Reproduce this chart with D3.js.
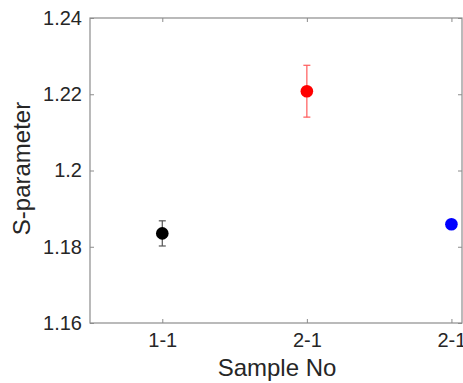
<!DOCTYPE html>
<html>
<head>
<meta charset="utf-8">
<script src="https://cdn.jsdelivr.net/npm/d3@7"></script>
<style>
  body { margin: 0; background: #fff; }
  svg { display: block; font-family: "Liberation Sans", Arial, sans-serif; }
</style>
</head>
<body>
<svg id="chart" width="463" height="383"></svg>
<script>
// data
const sampleIds = ['1-1', '2-1', '2-1'];
const sParam = [1.1835, 1.2208, 1.1859];
const sErr = [0.0033, 0.0068, 0];
const pointColors = ['#000000', '#ff0000', '#0000ff'];
const yTicks = [1.16, 1.18, 1.2, 1.22, 1.24];

const margin = { top: 18, right: 0, bottom: 60, left: 90 };
const width = 463;
const height = 383;

const svg = d3.select('#chart');

const x = d3.scaleLinear().domain([0.5, 3.08]).range([margin.left, 463]);
const y = d3.scaleLinear().domain([1.16, 1.24]).range([height - margin.bottom, margin.top]);

const axisColor = '#8c8c8c';
const textColor = '#262626';

// plot box
svg.append('rect')
  .attr('x', x(0.5)).attr('y', y(1.24))
  .attr('width', x(3.08) - x(0.5) - 1)
  .attr('height', y(1.16) - y(1.24))
  .attr('fill', 'none')
  .attr('stroke', axisColor)
  .attr('stroke-width', 1.2);

const xIdx = [1, 2, 3];

// axes (ticks point inward like matlab)
const gx = svg.append('g').attr('transform', `translate(0,${y(1.16)})`)
  .call(d3.axisBottom(x).tickValues(xIdx).tickSize(-4).tickPadding(10)
    .tickFormat((d, i) => sampleIds[i]));
const gxTop = svg.append('g').attr('transform', `translate(0,${y(1.24)})`)
  .call(d3.axisTop(x).tickValues(xIdx).tickSize(-4).tickFormat(''));
const gy = svg.append('g').attr('transform', `translate(${x(0.5)},0)`)
  .call(d3.axisLeft(y).tickValues(yTicks).tickSize(-4).tickPadding(8)
    .tickFormat(d => d3.format('')(+d.toFixed(2))));
const gyRight = svg.append('g').attr('transform', `translate(${x(3.08) - 1},0)`)
  .call(d3.axisRight(y).tickValues(yTicks).tickSize(-4).tickFormat(''));

[gx, gxTop, gy, gyRight].forEach(g => {
  g.select('.domain').remove();
  g.selectAll('.tick line').attr('stroke', axisColor);
  g.selectAll('.tick text')
    .attr('fill', textColor)
    .style('font-size', '20px');
});

// axis titles
svg.append('text')
  .attr('x', 277).attr('y', 376)
  .attr('text-anchor', 'middle')
  .attr('fill', textColor)
  .style('font-size', '24px')
  .text('Sample No');

svg.append('text')
  .attr('transform', `translate(30,${y(1.2) - 2}) rotate(-90)`)
  .attr('text-anchor', 'middle')
  .attr('fill', textColor)
  .style('font-size', '24px')
  .text('S-parameter');

// error bars
const pts = sParam.map((v, i) => ({ x: xIdx[i], v, e: sErr[i], c: pointColors[i] }));
const eb = svg.append('g').selectAll('g').data(pts.filter(d => d.e > 0)).enter().append('g')
  .attr('stroke', d => d.c === '#000000' ? '#555' : '#ff5a5a')
  .attr('stroke-width', 1.2);
eb.append('line')
  .attr('x1', d => x(d.x)).attr('x2', d => x(d.x))
  .attr('y1', d => y(d.v - d.e)).attr('y2', d => y(d.v + d.e));
eb.append('line')
  .attr('x1', d => x(d.x) - 3.5).attr('x2', d => x(d.x) + 3.5)
  .attr('y1', d => y(d.v + d.e)).attr('y2', d => y(d.v + d.e));
eb.append('line')
  .attr('x1', d => x(d.x) - 3.5).attr('x2', d => x(d.x) + 3.5)
  .attr('y1', d => y(d.v - d.e)).attr('y2', d => y(d.v - d.e));

// markers
svg.append('g').selectAll('circle').data(pts).enter().append('circle')
  .attr('cx', d => x(d.x))
  .attr('cy', d => y(d.v))
  .attr('r', 6.3)
  .attr('fill', d => d.c);
</script>
</body>
</html>
